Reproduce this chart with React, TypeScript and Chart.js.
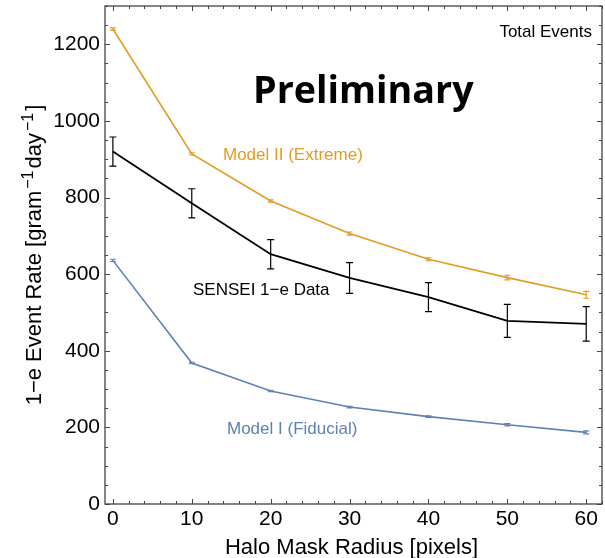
import React, { useEffect, useRef } from "react";
import Chart from "chart.js/auto";

// ---- data ----
const radii = [0, 10, 20, 30, 40, 50, 60];
const senseiRate = [920, 785, 652, 590, 540, 478, 470];
const senseiErr = [38, 38, 38, 40, 38, 43, 45];
const model2Rate = [1240, 914, 791, 706, 639, 591, 546];
const model2Err = [3, 3, 3, 4, 4, 6, 9];
const model1Rate = [636, 368, 295, 253, 228, 207, 187];
const model1Err = [3, 2, 2, 2, 2, 3, 4];

const xTickValues = [0, 10, 20, 30, 40, 50, 60];
const yTickValues = [0, 200, 400, 600, 800, 1000, 1200];
const xMinorStep = 2;
const yMinorStep = 50;
const xRange = [-1, 62];
const yRange = [0, 1300];

const seriesNames = ["Model II (Extreme)", "SENSEI 1−e Data", "Model I (Fiducial)"];
const xTitle = "Halo Mask Radius [pixels]";
const watermark = "Preliminary";
const cornerNote = "Total Events";

const ORANGE = "#E19C24";
const BLUE = "#5E81B5";
const BLACK = "#000000";
const FRAME = "#444444";
const FONT = "'Liberation Sans', Arial, Helvetica, sans-serif";

const errorBarPlugin = {
  id: "errorBars",
  afterDatasetsDraw(chart: any) {
    const { ctx } = chart;
    const xs = chart.scales.x;
    const ys = chart.scales.y;
    chart.data.datasets.forEach((ds: any) => {
      const errs: number[] = ds.errors || [];
      ctx.save();
      ctx.strokeStyle = ds.borderColor;
      ctx.lineWidth = ds.errWidth || 1.2;
      ds.data.forEach((p: any, j: number) => {
        const e = errs[j] || 0;
        const x = xs.getPixelForValue(p.x);
        const yt = ys.getPixelForValue(p.y + e);
        const yb = ys.getPixelForValue(p.y - e);
        const cap = ds.capHalf || 3;
        ctx.beginPath();
        ctx.moveTo(x, yt);
        ctx.lineTo(x, yb);
        ctx.moveTo(x - cap, yt);
        ctx.lineTo(x + cap, yt);
        ctx.moveTo(x - cap, yb);
        ctx.lineTo(x + cap, yb);
        ctx.stroke();
      });
      ctx.restore();
    });
  },
};

const framePlugin = {
  id: "frameTicks",
  afterDraw(chart: any) {
    const { ctx, chartArea } = chart;
    const { left, right, top, bottom } = chartArea;
    const xs = chart.scales.x;
    const ys = chart.scales.y;
    ctx.save();
    ctx.strokeStyle = FRAME;
    ctx.lineWidth = 1.3;
    ctx.strokeRect(left, top, right - left, bottom - top);
    ctx.lineWidth = 1;
    ctx.beginPath();
    const majX = new Set(xTickValues);
    for (let v = 0; v <= xRange[1]; v += xMinorStep) {
      const len = majX.has(v) ? 5 : 3;
      const x = Math.round(xs.getPixelForValue(v)) + 0.5;
      ctx.moveTo(x, bottom);
      ctx.lineTo(x, bottom - len);
      ctx.moveTo(x, top);
      ctx.lineTo(x, top + len);
    }
    const majY = new Set(yTickValues);
    for (let v = 0; v <= yRange[1]; v += yMinorStep) {
      const len = majY.has(v) ? 5 : 3;
      const y = Math.round(ys.getPixelForValue(v)) + 0.5;
      ctx.moveTo(left, y);
      ctx.lineTo(left + len, y);
      ctx.moveTo(right, y);
      ctx.lineTo(right - len, y);
    }
    ctx.stroke();

    // axis titles
    ctx.fillStyle = BLACK;
    ctx.font = `22px ${FONT}`;
    ctx.textAlign = "center";
    ctx.textBaseline = "alphabetic";
    ctx.fillText(xTitle, (left + right) / 2 - 2, 554);

    // y title with superscripts, rotated
    ctx.save();
    ctx.translate(41, (top + bottom) / 2);
    ctx.rotate(-Math.PI / 2);
    const parts: [string, boolean][] = [
      ["1−e Event Rate [gram", false],
      ["−1", true],
      ["day", false],
      ["−1", true],
      ["]", false],
    ];
    const normal = `22px ${FONT}`;
    const sup = `16px ${FONT}`;
    const gap = 2;
    let total = 0;
    parts.forEach(([t, s]) => {
      ctx.font = s ? sup : normal;
      total += ctx.measureText(t).width + (s ? 2 * gap : 0);
    });
    let cx = -total / 2;
    ctx.textAlign = "left";
    parts.forEach(([t, s]) => {
      ctx.font = s ? sup : normal;
      if (s) cx += gap;
      ctx.fillText(t, cx, s ? -8 : 0);
      cx += ctx.measureText(t).width + (s ? gap : 0);
    });
    ctx.restore();

    // annotations
    ctx.textAlign = "left";
    ctx.font = `17px ${FONT}`;
    ctx.fillStyle = ORANGE;
    ctx.fillText(seriesNames[0], 223, 160);
    ctx.fillStyle = BLACK;
    ctx.fillText(seriesNames[1], 193, 295);
    ctx.fillStyle = BLUE;
    ctx.fillText(seriesNames[2], 227, 434);
    ctx.fillStyle = BLACK;
    ctx.textAlign = "right";
    ctx.fillText(cornerNote, 592, 37);

    // watermark
    ctx.textAlign = "left";
    ctx.font = `bold 40px 'Open Sans', Lato, sans-serif`;
    const w = ctx.measureText(watermark).width;
    const size = (40 * 221) / w;
    ctx.font = `bold ${size.toFixed(1)}px 'Open Sans', Lato, sans-serif`;
    ctx.fillText(watermark, 253, 103);
    ctx.restore();
  },
};

export default function App() {
  const ref = useRef<HTMLCanvasElement | null>(null);
  useEffect(() => {
    if (!ref.current) return;
    const mk = (ys: number[]) => radii.map((x, i) => ({ x, y: ys[i] }));
    const chart = new Chart(ref.current, {
      type: "line",
      data: {
        datasets: [
          {
            label: seriesNames[0],
            data: mk(model2Rate),
            errors: model2Err,
            borderColor: ORANGE,
            borderWidth: 1.6,
            pointRadius: 0,
            capHalf: 3,
            errWidth: 1.1,
          } as any,
          {
            label: seriesNames[1],
            data: mk(senseiRate),
            errors: senseiErr,
            borderColor: BLACK,
            borderWidth: 1.8,
            pointRadius: 0,
            capHalf: 3.5,
            errWidth: 1.2,
          } as any,
          {
            label: seriesNames[2],
            data: mk(model1Rate),
            errors: model1Err,
            borderColor: BLUE,
            borderWidth: 1.6,
            pointRadius: 0,
            capHalf: 3,
            errWidth: 1.1,
          } as any,
        ],
      },
      options: {
        animation: false,
        responsive: false,
        maintainAspectRatio: false,
        layout: { padding: { top: 6, right: 3, left: 0, bottom: 0 } },
        plugins: { legend: { display: false }, tooltip: { enabled: false } },
        scales: {
          x: {
            type: "linear",
            min: xRange[0],
            max: xRange[1],
            afterBuildTicks: (s: any) => {
              s.ticks = xTickValues.map((v) => ({ value: v }));
            },
            afterFit: (s: any) => {
              s.height = 54;
              s.paddingLeft = 0;
              s.paddingRight = 0;
            },
            grid: { display: false, drawTicks: false },
            border: { display: false },
            ticks: {
              color: BLACK,
              padding: 3,
              maxRotation: 0,
              autoSkip: false,
              callback: (v: any) => String(v),
              font: { family: FONT, size: 21 },
            },
          },
          y: {
            type: "linear",
            min: yRange[0],
            max: yRange[1],
            afterBuildTicks: (s: any) => {
              s.ticks = yTickValues.map((v) => ({ value: v }));
            },
            afterFit: (s: any) => {
              s.width = 105;
              s.paddingTop = 0;
              s.paddingBottom = 0;
            },
            grid: { display: false, drawTicks: false },
            border: { display: false },
            ticks: {
              color: BLACK,
              padding: 5,
              autoSkip: false,
              callback: (v: any) => String(v),
              font: { family: FONT, size: 21 },
            },
          },
        },
      },
      plugins: [errorBarPlugin, framePlugin],
    } as any);
    return () => chart.destroy();
  }, []);
  return (
    <div style={{ position: "fixed", left: 0, top: 0, width: 605, height: 558, background: "#fff" }}>
      <canvas ref={ref} width={605} height={558} style={{ width: 605, height: 558, display: "block" }} />
    </div>
  );
}
